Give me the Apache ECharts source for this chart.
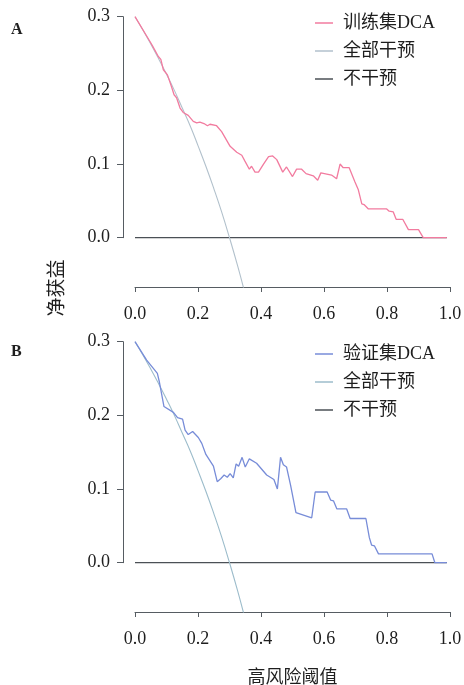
<!DOCTYPE html>
<html>
<head>
<meta charset="utf-8">
<script src="https://cdn.jsdelivr.net/npm/echarts@6/dist/echarts.min.js"></script>
<style>html,body{margin:0;padding:0;background:#fff;}#c{width:464px;height:685px;}</style>
</head>
<body>
<div id="c"></div>
<script>
// ---------- data ----------
const xTicks = [0, 0.2, 0.4, 0.6, 0.8, 1.0];
const yTicks = [0, 0.1, 0.2, 0.3];

const trainCurve = [[0,0.300],[0.048,0.266],[0.056,0.260],[0.074,0.246],[0.082,0.242],[0.090,0.228],[0.103,0.221],[0.116,0.205],[0.124,0.194],[0.132,0.190],[0.143,0.176],[0.153,0.170],[0.169,0.166],[0.185,0.158],[0.196,0.156],[0.206,0.157],[0.219,0.155],[0.230,0.152],[0.238,0.154],[0.259,0.152],[0.275,0.144],[0.302,0.124],[0.323,0.116],[0.339,0.112],[0.349,0.104],[0.363,0.093],[0.370,0.097],[0.381,0.089],[0.392,0.089],[0.408,0.100],[0.424,0.110],[0.437,0.111],[0.450,0.106],[0.469,0.089],[0.481,0.096],[0.500,0.083],[0.513,0.093],[0.529,0.093],[0.543,0.087],[0.566,0.084],[0.580,0.078],[0.590,0.088],[0.624,0.085],[0.640,0.080],[0.651,0.100],[0.661,0.095],[0.680,0.095],[0.698,0.076],[0.709,0.065],[0.720,0.046],[0.727,0.045],[0.741,0.039],[0.799,0.039],[0.807,0.036],[0.820,0.035],[0.829,0.025],[0.850,0.025],[0.868,0.011],[0.900,0.011],[0.915,0],[0.990,0]];

const validCurve = [[0,0.300],[0.037,0.275],[0.071,0.257],[0.077,0.246],[0.092,0.212],[0.122,0.204],[0.135,0.197],[0.151,0.195],[0.159,0.180],[0.169,0.174],[0.183,0.178],[0.201,0.170],[0.212,0.162],[0.225,0.147],[0.249,0.131],[0.261,0.110],[0.272,0.114],[0.283,0.119],[0.293,0.116],[0.302,0.121],[0.312,0.115],[0.321,0.134],[0.329,0.131],[0.340,0.143],[0.350,0.130],[0.363,0.141],[0.386,0.135],[0.418,0.119],[0.441,0.113],[0.452,0.100],[0.462,0.143],[0.471,0.133],[0.481,0.130],[0.494,0.105],[0.511,0.068],[0.561,0.061],[0.572,0.096],[0.610,0.096],[0.621,0.085],[0.630,0.084],[0.641,0.073],[0.672,0.073],[0.683,0.060],[0.733,0.060],[0.744,0.034],[0.751,0.024],[0.760,0.023],[0.773,0.012],[0.943,0.012],[0.952,0],[0.990,0]];

const treatAllT = [0, 0.025, 0.05, 0.075, 0.1, 0.125, 0.15, 0.175, 0.2, 0.225, 0.25, 0.275, 0.3, 0.325, 0.35];
const treatAllV = [0.300, 0.282, 0.263, 0.243, 0.222, 0.200, 0.176, 0.152, 0.125, 0.097, 0.067, 0.035, 0.000, -0.037, -0.077];

const treatNoneT = [0, 0.99];
const treatNoneV = [0, 0];

const names = { train: '训练集DCA', valid: '验证集DCA', all: '全部干预', none: '不干预' };

// ---------- styling / layout ----------
const FONT = '"Liberation Serif", "Noto Sans CJK SC", serif';
const AXIS_C = '#565c62';
const TEXT_C = '#1e1e1e';
const C_TRAIN = '#f27b9f';
const C_VALID = '#778cd8';
const C_ALL_A = '#b2c1cc';
const C_ALL_B = '#9cbccb';
const C_NONE = '#4b5056';

const X0 = 135, X1 = 450;          // pixel of x=0 and x=1
const panels = [
  { y03: 16.7, y0: 237.7, axisY: 287, top: 6, legendTop: 14 },
  { y03: 341.7, y0: 562.7, axisY: 612, top: 331, legendTop: 345 }
];

const pairs = (t, v) => t.map((x, i) => [x, v[i]]);

const grids = [], xAxes = [], yAxes = [], series = [], legends = [];

panels.forEach((p, k) => {
  const pxPerUnit = (p.y0 - p.y03) / 0.3;
  const yMax = (p.y0 - p.top) / pxPerUnit;
  const yMin = -(p.axisY - p.y0) / pxPerUnit;
  const gData = grids.length;
  grids.push({ left: X0, width: X1 - X0, top: p.top, height: p.axisY - p.top, containLabel: false, outerBoundsMode: 'none' });
  const gAx = grids.length;
  grids.push({ left: 123, width: 10, top: p.y03, height: p.y0 - p.y03, containLabel: false, outerBoundsMode: 'none' });

  xAxes.push({
    gridIndex: gData, type: 'value', min: 0, max: 1, interval: 0.2, position: 'bottom',
    axisLine: { show: true, onZero: false, lineStyle: { color: AXIS_C, width: 1 } },
    axisTick: { show: true, length: 5, lineStyle: { color: AXIS_C } },
    axisLabel: { margin: 18, fontFamily: FONT, fontSize: 18, color: TEXT_C, formatter: v => v.toFixed(1) },
    splitLine: { show: false },
    name: k === 1 ? '高风险阈值' : '', nameLocation: 'middle', nameGap: 57,
    nameTextStyle: { fontFamily: FONT, fontSize: 18, color: TEXT_C }
  });
  xAxes.push({ gridIndex: gAx, type: 'value', min: 0, max: 1, show: false });

  yAxes.push({ gridIndex: gData, type: 'value', min: yMin, max: yMax, show: false, splitLine: { show: false } });
  yAxes.push({
    gridIndex: gAx, type: 'value', min: 0, max: 0.3, interval: 0.1, position: 'left',
    axisLine: { show: true, onZero: false, lineStyle: { color: AXIS_C, width: 1 } },
    axisTick: { show: true, length: 6, lineStyle: { color: AXIS_C } },
    axisLabel: { margin: 13, fontFamily: FONT, fontSize: 18, color: TEXT_C, formatter: v => v.toFixed(1) },
    splitLine: { show: false }
  });

  const modelName = k === 0 ? names.train : names.valid;
  const modelColor = k === 0 ? C_TRAIN : C_VALID;
  const allColor = k === 0 ? C_ALL_A : C_ALL_B;
  const curve = k === 0 ? trainCurve : validCurve;
  const base = { type: 'line', xAxisIndex: gData, yAxisIndex: gData, symbol: 'none', animation: false, clip: true, silent: true };
  series.push(Object.assign({}, base, { name: names.none, data: pairs(treatNoneT, treatNoneV),
    lineStyle: { color: C_NONE, width: 1.2 }, itemStyle: { color: C_NONE }, z: 2 }));
  series.push(Object.assign({}, base, { name: names.all, data: pairs(treatAllT, treatAllV), smooth: true,
    lineStyle: { color: allColor, width: 1.1 }, itemStyle: { color: allColor }, z: 3 }));
  series.push(Object.assign({}, base, { name: modelName, data: curve,
    lineStyle: { color: modelColor, width: 1.3 }, itemStyle: { color: modelColor }, z: 4 }));

  legends.push({
    orient: 'vertical', left: 315, top: p.legendTop, icon: 'rect', padding: 0,
    itemWidth: 18, itemHeight: 1.5, itemGap: 10, selectedMode: false,
    textStyle: { fontFamily: FONT, fontSize: 18, color: TEXT_C, padding: [0, 0, 0, 5] },
    data: [
      { name: modelName, itemStyle: { color: modelColor } },
      { name: names.all, itemStyle: { color: allColor } },
      { name: names.none, itemStyle: { color: C_NONE } }
    ]
  });
});

const chart = echarts.init(document.getElementById('c'), null, { renderer: 'canvas' });
chart.setOption({
  backgroundColor: '#fff',
  animation: false,
  grid: grids, xAxis: xAxes, yAxis: yAxes, series: series, legend: legends,
  graphic: [
    { type: 'text', left: 11, top: 22, style: { text: 'A', font: 'bold 16px "Liberation Serif"', fill: TEXT_C } },
    { type: 'text', left: 11, top: 344, style: { text: 'B', font: 'bold 16px "Liberation Serif"', fill: TEXT_C } },
    { type: 'text', x: 56, y: 288, rotation: Math.PI / 2,
      style: { text: '净获益', font: '19px "Noto Sans CJK SC"', fill: TEXT_C, align: 'center', verticalAlign: 'middle' } }
  ]
});
</script>
</body>
</html>
